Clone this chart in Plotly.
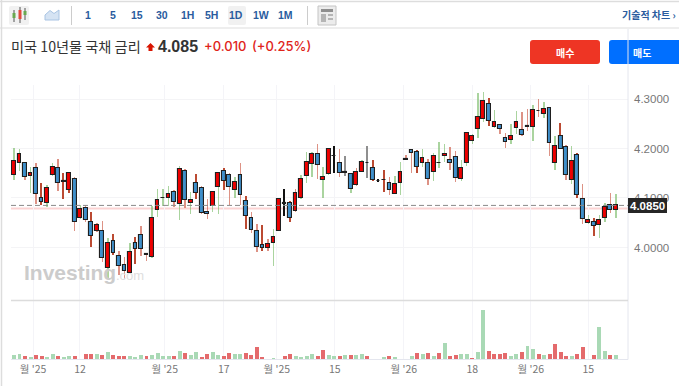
import plotly.graph_objects as go

# ---------- data ----------
opens = [4.147,4.171,4.170,4.145,4.160,4.100,4.089,4.146,4.160,4.134,
4.116,4.138,4.059,4.079,4.052,4.033,4.033,3.958,4.013,3.983,
3.964,3.949,4.009,4.025,3.987,3.980,4.076,4.101,4.101,4.112,
4.087,4.155,4.089,4.130,4.120,4.071,4.083,4.123,4.155,4.147,
4.117,4.147,4.093,4.059,4.033,4.005,3.999,4.009,4.034,4.090,
4.089,4.073,4.100,4.145,4.168,4.188,4.137,4.148,4.185,4.171,
4.153,4.148,4.126,4.153,4.171,4.160,4.135,4.137,4.130,4.109,
4.130,4.178,4.196,4.192,4.170,4.171,4.153,4.171,4.185,4.176,
4.182,4.139,4.171,4.216,4.239,4.260,4.289,4.243,4.248,4.221,
4.217,4.241,4.237,4.245,4.244,4.276,4.269,4.281,4.170,4.225,
4.204,4.137,4.186,4.098,4.049,4.051,4.045,4.059,4.085,4.075]
closes = [4.175,4.189,4.143,4.151,4.108,4.091,4.120,4.162,4.130,4.132,
4.150,4.052,4.077,4.056,4.023,4.046,3.978,4.009,3.988,3.963,
3.953,3.990,3.996,3.996,3.985,4.059,4.095,4.100,4.108,4.091,
4.159,4.095,4.095,4.111,4.069,4.068,4.112,4.150,4.134,4.122,
4.132,4.106,4.064,4.036,4.002,3.998,4.007,4.021,4.097,4.088,
4.059,4.110,4.139,4.173,4.188,4.166,4.143,4.198,4.184,4.150,
4.151,4.118,4.152,4.172,4.170,4.136,4.134,4.136,4.117,4.128,
4.153,4.177,4.190,4.163,4.180,4.139,4.184,4.170,4.189,4.171,
4.141,4.160,4.231,4.225,4.264,4.296,4.256,4.253,4.240,4.213,
4.225,4.253,4.227,4.243,4.278,4.275,4.280,4.211,4.206,4.200,
4.147,4.174,4.106,4.058,4.056,4.043,4.056,4.082,4.075,4.085]
highs = [4.202,4.198,4.171,4.162,4.170,4.130,4.126,4.170,4.178,4.150,
4.153,4.142,4.086,4.086,4.071,4.049,4.054,4.019,4.027,3.992,
3.980,4.009,4.021,4.044,3.987,4.083,4.118,4.118,4.124,4.116,
4.165,4.159,4.113,4.149,4.124,4.097,4.115,4.151,4.160,4.151,
4.143,4.170,4.104,4.071,4.048,4.046,4.017,4.037,4.097,4.118,
4.093,4.118,4.147,4.192,4.192,4.210,4.163,4.202,4.206,4.200,
4.185,4.150,4.160,4.176,4.205,4.176,4.138,4.156,4.143,4.145,
4.172,4.186,4.197,4.196,4.199,4.179,4.190,4.213,4.209,4.203,
4.194,4.177,4.234,4.229,4.313,4.315,4.303,4.278,4.249,4.231,
4.250,4.276,4.274,4.280,4.288,4.301,4.293,4.283,4.225,4.252,
4.207,4.206,4.191,4.129,4.065,4.059,4.065,4.089,4.110,4.108]
lows = [4.136,4.155,4.136,4.110,4.088,4.086,4.081,4.145,4.115,4.097,
4.111,4.034,4.057,4.052,4.001,4.032,3.970,3.938,3.985,3.945,
3.937,3.948,3.967,3.982,3.972,3.978,4.061,4.084,4.084,4.081,
4.056,4.079,4.068,4.097,4.068,4.058,4.072,4.068,4.116,4.085,
4.099,4.085,4.037,4.029,3.990,3.992,3.992,3.963,4.034,4.064,
4.052,4.072,4.097,4.131,4.143,4.138,4.099,4.147,4.150,4.143,
4.145,4.110,4.125,4.152,4.140,4.135,4.133,4.112,4.106,4.108,
4.106,4.176,4.151,4.151,4.163,4.126,4.135,4.161,4.172,4.157,
4.132,4.135,4.165,4.210,4.222,4.254,4.246,4.241,4.229,4.202,
4.209,4.229,4.226,4.236,4.215,4.264,4.262,4.185,4.157,4.199,
4.137,4.128,4.099,4.048,4.048,4.024,4.020,4.051,4.069,4.060]
wick_tone = list(
"ggrgrdggrd" "drgrdrrgdr" "rgdrrggggr" "grgdrrggdr" "grdrrdrgkk"
"drgggrggkr" "agrgadkdrg" "grrdgrgggr" "rggggg" "dgrr" "ggrrgrgrgd" "rgdrgdggrg")
volumes = [11,15,8,6,12,10,7,14,8,6,
10,8,0,15,15,15,13,20,11,8,
10,10,7,12,10,13,17,10,8,10,
23,18,13,20,5,15,20,13,10,18,
15,15,18,11,37,4,0,2,0,10,
15,8,6,8,15,10,26,13,10,10,
12,12,12,14,8,0,0,5,8,5,
0,0,8,18,15,18,10,18,47,10,
12,15,15,2,20,147,23,15,15,18,
10,15,20,39,31,15,12,15,44,20,
10,10,15,36,0,12,95,24,12,12]
volume_tone = list(
"ggrgrrggrg" "grgrrgrgrr" "rgggrggggr" "grggrrggrr" "ggrrrrgggr"
"rggggrrggr" "grggrgggrg" "gggrgrgrgr" "rggrggrrrr" "ggrggrgrrr" "rgrrgrggrg")
tick_positions = [3.45, 11.95, 27.3, 38, 47.6, 58.1, 70.6, 83, 93.6, 104]
tick_labels = ["월 '25", "12", "월 '25", "17", "월 '25", "15", "월 '26", "18", "월 '26", "15"]
last_price = 4.085
prev_close = 4.079
price_ticks = [4.0, 4.1, 4.2, 4.3]
price_tick_labels = ["4.0000", "4.1000", "4.2000", "4.3000"]

# ---------- styling ----------
W, H = 679, 386
WICK = {"g": "rgba(118,186,100,0.62)", "r": "rgba(205,95,75,0.68)", "d": "#bb4a32",
        "k": "#111111", "a": "#8f8f8f"}
VOL = {"g": "#a9d9b5", "r": "#e46a6c"}
KR = "Noto Sans CJK KR, Liberation Sans, sans-serif"
LAT = "Liberation Sans, Arial, sans-serif"
NAVY = "#2a5c9e"

def px(x):
    return x / W
def py(y):
    return 1 - y / H

idx = list(range(len(opens)))
fig = go.Figure()
fig.add_trace(go.Bar(x=idx, base=lows, y=[h - l for h, l in zip(highs, lows)], width=0.26,
                     marker=dict(color=[WICK[t] for t in wick_tone], line_width=0),
                     name="wicks", xaxis="x", yaxis="y", hoverinfo="skip"))
fig.add_trace(go.Bar(x=idx, base=opens, y=[c - o for o, c in zip(opens, closes)], width=0.68,
                     marker=dict(color=["#ee0000" if c >= o else "#3f8fca" for o, c in zip(opens, closes)],
                                 line=dict(color="#1f1f1f", width=1.1)),
                     name="price", xaxis="x", yaxis="y"))
fig.add_trace(go.Bar(x=idx, y=volumes, width=0.72,
                     marker=dict(color=[VOL[t] for t in volume_tone], line_width=0),
                     name="volume", xaxis="x2", yaxis="y2"))

xr = [-0.54, 111.2]
xd = [px(11), px(628)]
fig.update_layout(
    width=W, height=H, autosize=False, margin=dict(l=0, r=0, t=0, b=0),
    paper_bgcolor="white", plot_bgcolor="white", showlegend=False, barmode="overlay", bargap=0,
    font=dict(family=LAT, color="#777777", size=11),
    xaxis=dict(domain=xd, range=xr, anchor="y", showticklabels=False, ticks="",
               tickvals=tick_positions, showgrid=True, gridcolor="#f4f4f8", zeroline=False, showline=False),
    yaxis=dict(domain=[py(300), py(85)], range=[3.8939, 4.3283], side="right", anchor="x",
               tickvals=price_ticks, ticktext=price_tick_labels, ticks="", showgrid=True,
               gridcolor="#f4f4f6", zeroline=False, showline=False,
               tickfont=dict(size=11.5, color="#777777"), ticklabelstandoff=5),
    xaxis2=dict(domain=xd, range=xr, anchor="y2", tickvals=tick_positions, ticktext=tick_labels,
                ticks="", showgrid=True, gridcolor="#f4f4f8", zeroline=False, showline=False,
                tickfont=dict(size=10.5, color="#777777", family=KR), ticklabelstandoff=2),
    yaxis2=dict(domain=[py(359), py(301)], range=[0, 174], anchor="x2", showticklabels=False,
                ticks="", showgrid=False, zeroline=False, showline=False),
)

shapes, ann = [], []

def rect(x0, y0, x1, y1, fill="rgba(0,0,0,0)", line=None, lw=1, layer="above"):
    shapes.append(dict(type="rect", xref="paper", yref="paper", x0=px(x0), x1=px(x1), y0=py(y0), y1=py(y1),
                       fillcolor=fill, line=dict(color=line or "rgba(0,0,0,0)", width=lw if line else 0), layer=layer))

def seg(x0, y0, x1, y1, color, lw=1, dash="solid", layer="above"):
    shapes.append(dict(type="line", xref="paper", yref="paper", x0=px(x0), x1=px(x1), y0=py(y0), y1=py(y1),
                       line=dict(color=color, width=lw, dash=dash), layer=layer))

def rounded(x0, y0, x1, y1, r, fill):
    X0, X1, Y0, Y1 = px(x0), px(x1), py(y0), py(y1)
    rx, ry = r / W, r / H
    path = (f"M{X0+rx},{Y0} L{X1-rx},{Y0} Q{X1},{Y0} {X1},{Y0-ry} L{X1},{Y1+ry} Q{X1},{Y1} {X1-rx},{Y1} "
            f"L{X0+rx},{Y1} Q{X0},{Y1} {X0},{Y1+ry} L{X0},{Y0-ry} Q{X0},{Y0} {X0+rx},{Y0} Z")
    shapes.append(dict(type="path", xref="paper", yref="paper", path=path, fillcolor=fill, line_width=0))

def text(x, y, s, size=11, color="#333333", family=KR, anchor="left", bold=False, weight=None):
    font = dict(size=size, color=color, family=family)
    if weight:
        font["weight"] = weight
    ann.append(dict(xref="paper", yref="paper", x=px(x), y=py(y), text=f"<b>{s}</b>" if bold else s,
                    showarrow=False, xanchor=anchor, yanchor="middle", borderpad=0, borderwidth=0,
                    font=font))

# page frame and toolbar
seg(0, 1.5, 679, 1.5, "#dddddd", 1.5)
seg(0, 28, 679, 28, "#dddddd", 1.2)
seg(1.5, 0, 1.5, 386, "#dddddd", 1.5)
rounded(9, 6, 29, 25, 2, "#f1f1f1")
for cx, c, t, b, wt, wb in [(14, "#6aa84f", 13, 18, 10, 22), (20, "#e2483d", 10, 19, 7, 23), (25, "#6aa84f", 11, 15, 8, 20)]:
    seg(cx, wt, cx, wb, "#555555", 1)
    rect(cx - 1.5, t, cx + 1.5, b, fill=c)
shapes.append(dict(type="path", xref="paper", yref="paper",
                   path=f"M{px(45)},{py(20)} L{px(45)},{py(15)} L{px(50)},{py(10.5)} L{px(54)},{py(13.5)} L{px(59)},{py(10)} L{px(59)},{py(20)} Z",
                   fillcolor="#d5e3f3", line=dict(color="#a9c4e3", width=1)))
seg(71.5, 6, 71.5, 25, "#cccccc", 1)
seg(307.5, 6, 307.5, 25, "#cccccc", 1)
rounded(228, 6, 246, 25, 2, "#f1f1f1")
for x, s in zip([88, 113, 137, 162, 187, 211, 236, 261, 285], ["1", "5", "15", "30", "1H", "5H", "1D", "1W", "1M"]):
    text(x, 14.5, s, size=10.5, color=NAVY, family=LAT, anchor="center", bold=True)
rect(318, 6, 336, 25, fill="#ececec", line="#c4c4c4")
rect(321, 9, 333, 12, fill="#8f8f8f")
rect(321, 14, 326, 22, fill="#b5b5b5")
rect(328, 14, 333, 16, fill="#b5b5b5")
rect(328, 18, 333, 20, fill="#b5b5b5")
text(676, 14, "기술적 차트 ›", size=10, color=NAVY, anchor="right", bold=True)

# header
text(10.5, 46, "미국 10년물 국채 금리", size=14.2, color="#333333")
shapes.append(dict(type="path", xref="paper", yref="paper",
                   path=f"M{px(150.5)},{py(43)} L{px(155)},{py(47.5)} L{px(152.5)},{py(47.5)} L{px(152.5)},{py(51)} L{px(148.5)},{py(51)} L{px(148.5)},{py(47.5)} L{px(146)},{py(47.5)} Z",
                   fillcolor="#d91400", line_width=0))
text(157.5, 46.5, "4.085", size=16, color="#333333", family=LAT, bold=True)
text(203.5, 46.5, "+0.010", size=13, color="#e0241a", family="Inter, Liberation Sans", weight=500)
text(251.5, 46.5, "(+0.25%)", size=13, color="#e0241a", family="Inter, Liberation Sans", weight=500)
rounded(530, 40, 600, 64, 3, "#ee3524")
rounded(609, 40, 685, 64, 3, "#006fff")
text(565, 52, "매수", size=10, color="white", anchor="center", bold=True)
text(642, 52, "매도", size=10, color="white", anchor="center", bold=True)

# plot frame
seg(628, 29, 628, 359.5, "#e4e6ee", 1)
seg(11, 300.5, 628, 300.5, "#dcdcdc", 1.5)
seg(11, 359.5, 628, 359.5, "#e4e6ee", 1)

# reference lines tied to the price axis
shapes.append(dict(type="line", xref="paper", yref="y", x0=px(11), x1=px(628), y0=prev_close, y1=prev_close,
                   line=dict(color="#fbd3d3", width=2), layer="below"))
shapes.append(dict(type="line", xref="paper", yref="y", x0=px(11), x1=px(628), y0=last_price, y1=last_price,
                   line=dict(color="#8a8a8a", width=1, dash="5px,3px"), layer="above"))

# last price tag
rect(628, 198, 667, 213, fill="#262626")
text(647.5, 205.5, f"{last_price:.4f}", size=11.5, color="white", family=LAT, anchor="center", bold=True)

# watermark
text(23.5, 272.5, "Investing", size=21, color="#cccccc", family=LAT, bold=True)
text(116, 275.5, ".com", size=13, color="#dedede", family=LAT)

fig.update_layout(shapes=shapes, annotations=ann)
fig.write_html("out.html", config={"displayModeBar": False},
               post_script="document.body.style.margin='0';document.body.style.overflow='hidden';")
